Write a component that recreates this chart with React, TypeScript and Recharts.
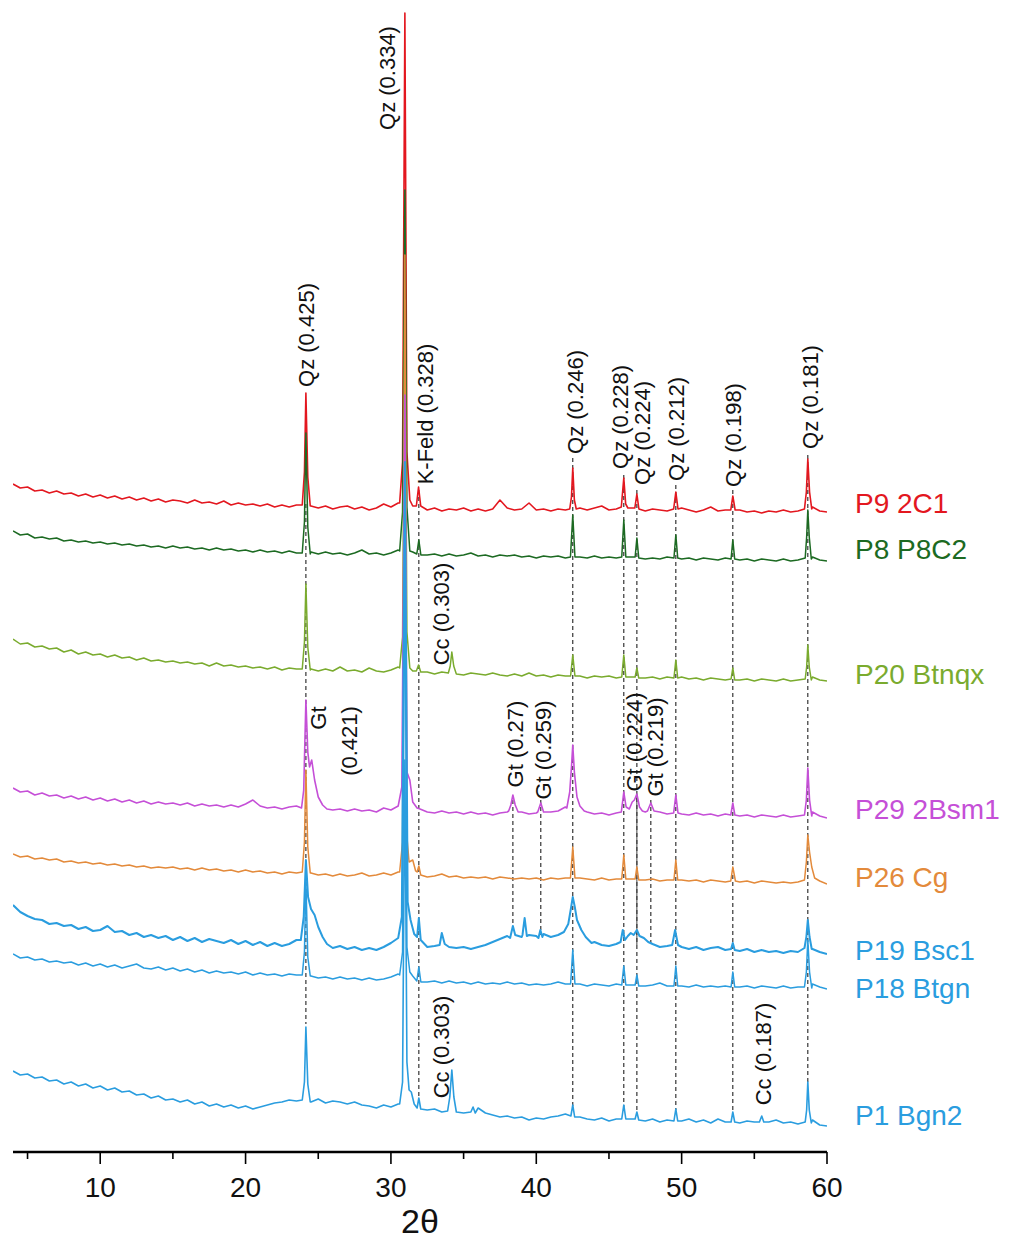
import { LineChart, Line, XAxis, YAxis, ReferenceLine, ReferenceDot } from 'recharts'

const FONT = '"Liberation Sans", Arial, Helvetica, sans-serif'

// raw scans are sampled on a 0.5° grid from 4° to 60° 2θ; peaks are added as extra points
const GRID_START = 4
const GRID_STEP = 0.5

// stacked intensities (offset already applied), one value per grid step
const p9Base = [
  668, 664, 665, 661, 662, 659, 661, 658, 659, 656,
  658, 655, 657, 654, 656, 653, 655, 652, 654, 651,
  653, 650, 652, 651, 649, 652, 649, 650, 648, 651,
  647, 649, 647, 648, 646, 648, 645, 647, 645, 647,
  648, 646, 644, 646, 643, 645, 646, 643, 645, 642,
  644, 648, 645, 649, 650, 646, 644, 642, 644, 641,
  643, 642, 644, 641, 643, 641, 643, 652, 644, 642,
  643, 649, 642, 643, 641, 643, 642, 645, 644, 642,
  644, 646, 642, 643, 645, 644, 644, 641, 643, 642,
  641, 643, 644, 642, 640, 642, 645, 641, 642, 643,
  642, 640, 641, 639, 641, 640, 642, 640, 641, 643,
  645, 641, 640,
]
const p9Peaks = [
  [[23.9, 647], [24.05, 680], [24.15, 759], [24.28, 675], [24.45, 646]],
  [[30.6, 649], [30.8, 690], [30.96, 1139], [31.1, 700], [31.3, 652]],
  [[31.75, 646], [31.9, 665], [32.05, 646]],
  [[42.3, 643], [42.42, 655], [42.51, 684], [42.62, 652], [42.75, 643]],
  [[45.85, 645], [46.02, 674], [46.15, 648], [46.3, 644]],
  [[46.78, 644], [46.92, 658], [47.06, 643]],
  [[49.45, 643], [49.6, 660], [49.75, 643]],
  [[53.38, 642], [53.52, 656], [53.68, 642]],
  [[58.45, 643], [58.58, 660], [58.68, 693], [58.8, 660], [58.95, 643]],
]

const p8Base = [
  621, 617, 618, 614, 615, 613, 614, 611, 612, 610,
  611, 609, 610, 608, 609, 607, 608, 606, 607, 605,
  606, 604, 606, 604, 605, 603, 604, 602, 604, 602,
  603, 601, 602, 600, 602, 600, 601, 599, 601, 599,
  602, 600, 598, 600, 598, 599, 597, 599, 602, 598,
  599, 597, 599, 602, 603, 600, 598, 597, 598, 596,
  598, 596, 597, 599, 596, 597, 595, 597, 596, 597,
  595, 596, 594, 596, 595, 596, 594, 596, 595, 594,
  596, 594, 595, 594, 596, 595, 596, 593, 594, 593,
  595, 594, 593, 594, 592, 594, 593, 592, 594, 595,
  592, 593, 591, 593, 592, 591, 593, 591, 592, 594,
  595, 592, 591,
]
const p8Peaks = [
  [[23.9, 599], [24.05, 630], [24.15, 719], [24.28, 625], [24.45, 598]],
  [[30.6, 601], [30.8, 640], [30.96, 962], [31.1, 645], [31.3, 601]],
  [[31.78, 598], [31.92, 612], [32.06, 597]],
  [[42.35, 595], [42.51, 637], [42.66, 595]],
  [[45.88, 595], [46.02, 632], [46.16, 595]],
  [[46.8, 595], [46.92, 614], [47.05, 594]],
  [[49.47, 594], [49.6, 617], [49.73, 594]],
  [[53.4, 593], [53.52, 612], [53.65, 593]],
  [[58.5, 594], [58.6, 615], [58.68, 642], [58.78, 615], [58.92, 593]],
]

const p20Base = [
  513, 508, 509, 505, 506, 503, 504, 500, 502, 498,
  500, 497, 498, 495, 497, 494, 495, 492, 494, 491,
  492, 490, 491, 489, 490, 488, 489, 486, 489, 486,
  487, 485, 486, 484, 485, 483, 485, 482, 484, 483,
  486, 483, 481, 483, 481, 485, 481, 482, 480, 484,
  481, 480, 482, 485, 486, 481, 479, 480, 478, 480,
  481, 479, 477, 479, 478, 477, 479, 477, 476, 478,
  476, 479, 476, 477, 475, 477, 476, 478, 476, 474,
  476, 475, 476, 474, 476, 475, 476, 474, 475, 473,
  475, 474, 475, 473, 474, 472, 474, 473, 472, 474,
  472, 473, 471, 473, 472, 471, 473, 471, 472, 474,
  475, 472, 471,
]
const p20Peaks = [
  [[23.9, 483], [24.05, 510], [24.15, 568], [24.28, 505], [24.45, 482]],
  [[30.6, 484], [30.8, 515], [30.96, 852], [31.1, 520], [31.3, 484]],
  [[31.75, 481], [31.9, 487], [32.05, 480]],
  [[33.95, 479], [34.08, 486], [34.19, 500], [34.32, 486], [34.5, 478]],
  [[42.36, 476], [42.51, 497], [42.66, 476]],
  [[45.88, 475], [46.02, 497], [46.16, 475]],
  [[46.8, 475], [46.92, 484], [47.05, 474]],
  [[49.47, 474], [49.6, 492], [49.73, 474]],
  [[53.4, 473], [53.52, 484], [53.65, 472]],
  [[58.5, 473], [58.6, 485], [58.68, 507], [58.78, 485], [58.92, 472]],
]

const p29Base = [
  364, 360, 361, 357, 359, 356, 357, 354, 356, 353,
  355, 352, 354, 351, 353, 350, 352, 349, 351, 348,
  350, 348, 349, 347, 349, 346, 348, 346, 347, 345,
  347, 345, 348, 352, 346, 344, 345, 343, 345, 346,
  350, 360, 350, 344, 342, 343, 341, 343, 341, 342,
  340, 344, 342, 346, 350, 349, 343, 340, 339, 341,
  339, 340, 338, 340, 338, 339, 337, 339, 340, 345,
  340, 338, 339, 344, 340, 341, 345, 350, 345, 340,
  338, 339, 337, 339, 342, 340, 344, 340, 345, 340,
  338, 340, 338, 337, 339, 337, 338, 336, 338, 339,
  336, 337, 335, 337, 336, 335, 337, 335, 336, 340,
  340, 336, 334,
]
const p29Peaks = [
  [[23.85, 344], [24.0, 362], [24.15, 452], [24.28, 400], [24.4, 385], [24.55, 392], [24.75, 372], [25.0, 355], [25.3, 347], [25.6, 343]],
  [[30.5, 346], [30.75, 365], [30.96, 757], [31.1, 380], [31.3, 372], [31.5, 350], [31.8, 344]],
  [[38.1, 341], [38.25, 347], [38.39, 357], [38.55, 347], [38.75, 340]],
  [[40.1, 340], [40.31, 349], [40.5, 340]],
  [[42.1, 344], [42.3, 360], [42.42, 385], [42.51, 407], [42.62, 380], [42.8, 355], [43.0, 346], [43.3, 341]],
  [[45.85, 340], [46.02, 360], [46.18, 345], [46.4, 343], [46.6, 350], [46.75, 352], [46.92, 358], [47.1, 345], [47.3, 341]],
  [[47.65, 341], [47.88, 349], [48.1, 341]],
  [[49.45, 339], [49.6, 357], [49.75, 339]],
  [[53.38, 337], [53.52, 349], [53.66, 337]],
  [[58.45, 337], [58.58, 352], [58.68, 384], [58.8, 352], [58.95, 336]],
]

const p26Base = [
  298, 295, 296, 293, 294, 292, 293, 290, 291, 289,
  290, 288, 289, 287, 288, 286, 287, 285, 286, 284,
  285, 284, 285, 283, 284, 282, 284, 282, 283, 281,
  282, 280, 282, 280, 281, 279, 280, 278, 280, 279,
  281, 279, 277, 278, 276, 278, 276, 277, 279, 276,
  277, 279, 277, 280, 281, 279, 276, 275, 276, 278,
  275, 276, 274, 275, 274, 275, 273, 275, 274, 273,
  274, 273, 274, 272, 274, 273, 274, 276, 274, 273,
  272, 274, 272, 273, 274, 273, 275, 272, 273, 271,
  272, 273, 272, 271, 272, 270, 272, 271, 270, 272,
  270, 271, 269, 271, 270, 269, 270, 269, 270, 272,
  275, 271, 268,
]
const p26Peaks = [
  [[23.9, 280], [24.05, 310], [24.15, 382], [24.28, 305], [24.45, 279]],
  [[30.6, 280], [30.8, 310], [30.96, 897], [31.1, 315], [31.25, 290], [31.5, 292], [31.7, 281]],
  [[31.8, 280], [31.92, 286], [32.05, 277]],
  [[42.35, 274], [42.51, 305], [42.66, 274]],
  [[45.88, 273], [46.02, 297], [46.16, 273]],
  [[46.8, 273], [46.92, 285], [47.05, 272]],
  [[49.47, 272], [49.6, 292], [49.73, 272]],
  [[53.38, 271], [53.52, 285], [53.7, 271]],
  [[58.45, 272], [58.58, 290], [58.68, 317], [58.8, 300], [58.95, 285], [59.15, 274]],
]

const p19Base = [
  247, 240, 236, 233, 232, 228, 229, 226, 227, 223,
  225, 221, 222, 226, 220, 221, 217, 219, 215, 217,
  214, 216, 212, 215, 211, 214, 210, 213, 211, 209,
  212, 208, 211, 207, 210, 206, 209, 206, 208, 212,
  215, 220, 212, 206, 204, 206, 203, 205, 202, 204,
  202, 205, 209, 214, 220, 215, 207, 205, 206, 209,
  205, 204, 205, 203, 205, 207, 210, 213, 216, 220,
  215, 217, 216, 218, 215, 217, 222, 230, 225, 215,
  210, 207, 206, 208, 212, 214, 215, 210, 208, 205,
  206, 209, 205, 203, 205, 202, 204, 205, 202, 204,
  201, 203, 200, 202, 200, 201, 199, 201, 200, 206,
  203, 200, 198,
]
const p19Peaks = [
  [[23.8, 212], [24.0, 235], [24.15, 292], [24.3, 255], [24.5, 243], [24.75, 237], [25.0, 225], [25.3, 215], [25.6, 208]],
  [[30.5, 214], [30.75, 235], [30.96, 690], [31.15, 250], [31.35, 232], [31.6, 218]],
  [[31.8, 215], [31.92, 234], [32.05, 212]],
  [[33.35, 207], [33.5, 219], [33.7, 208]],
  [[38.2, 214], [38.39, 226], [38.55, 217]],
  [[39.05, 217], [39.2, 234], [39.35, 216]],
  [[40.15, 214], [40.28, 222], [40.42, 215]],
  [[41.9, 220], [42.2, 228], [42.4, 245], [42.51, 255], [42.65, 245], [42.8, 232], [43.1, 222], [43.4, 215], [43.8, 209]],
  [[45.8, 210], [45.95, 222], [46.1, 212], [46.3, 216], [46.5, 219], [46.7, 217], [46.92, 222], [47.1, 216], [47.4, 214], [47.7, 210]],
  [[49.35, 207], [49.55, 222], [49.75, 207]],
  [[53.4, 203], [53.52, 209], [53.65, 202]],
  [[58.45, 204], [58.58, 215], [58.68, 232], [58.8, 215], [58.95, 203]],
]

const p18Base = [
  198, 194, 195, 192, 193, 190, 191, 189, 190, 187,
  189, 186, 188, 185, 187, 184, 186, 188, 184, 183,
  185, 182, 184, 181, 183, 180, 182, 179, 181, 179,
  180, 178, 180, 177, 179, 177, 178, 176, 178, 177,
  180, 176, 174, 175, 173, 175, 173, 174, 172, 174,
  172, 173, 175, 178, 180, 176, 172, 170, 171, 169,
  171, 169, 170, 168, 170, 168, 169, 168, 170, 168,
  169, 167, 168, 167, 168, 170, 168, 170, 168, 166,
  168, 167, 166, 168, 170, 167, 168, 166, 167, 169,
  166, 168, 166, 165, 167, 165, 166, 165, 166, 167,
  165, 166, 164, 166, 165, 164, 166, 164, 165, 167,
  168, 165, 163,
]
const p18Peaks = [
  [[23.9, 177], [24.05, 200], [24.15, 272], [24.28, 195], [24.45, 176]],
  [[30.6, 177], [30.8, 200], [30.96, 622], [31.1, 205], [31.3, 180]],
  [[31.78, 171], [31.92, 185], [32.06, 170]],
  [[42.36, 168], [42.51, 202], [42.66, 168]],
  [[45.88, 167], [46.02, 186], [46.16, 167]],
  [[46.8, 167], [46.92, 177], [47.05, 166]],
  [[49.47, 166], [49.6, 186], [49.73, 166]],
  [[53.4, 165], [53.52, 180], [53.65, 165]],
  [[58.45, 165], [58.58, 180], [58.68, 212], [58.8, 180], [58.95, 164]],
]

const p1Base = [
  81, 77, 78, 74, 75, 71, 72, 68, 70, 66,
  68, 64, 66, 62, 64, 60, 61, 57, 58, 54,
  56, 52, 53, 50, 52, 48, 50, 46, 48, 45,
  47, 44, 46, 43, 45, 47, 49, 50, 52, 51,
  54, 50, 53, 49, 51, 50, 48, 50, 47, 46,
  44, 47, 45, 48, 50, 46, 44, 42, 43, 40,
  42, 41, 39, 41, 44, 39, 37, 35, 36, 34,
  35, 32, 34, 33, 35, 36, 38, 40, 35, 33,
  32, 34, 31, 33, 35, 33, 36, 31, 33, 30,
  32, 34, 31, 33, 30, 32, 29, 33, 30, 32,
  29, 31, 30, 33, 30, 32, 29, 30, 28, 31,
  32, 27, 26,
]
const p1Peaks = [
  [[23.9, 52], [24.05, 70], [24.15, 125], [24.28, 68], [24.45, 50]],
  [[30.6, 48], [30.8, 70], [30.96, 392], [31.1, 90], [31.25, 62], [31.4, 60], [31.6, 48]],
  [[31.8, 44], [31.92, 54], [32.05, 43]],
  [[33.9, 41], [34.05, 55], [34.19, 82], [34.33, 55], [34.5, 40]],
  [[35.5, 40], [35.65, 45], [35.8, 39]],
  [[42.38, 36], [42.51, 47], [42.64, 35]],
  [[45.88, 33], [46.02, 47], [46.16, 33]],
  [[46.8, 33], [46.92, 40], [47.05, 32]],
  [[49.47, 31], [49.6, 43], [49.73, 31]],
  [[53.4, 30], [53.52, 40], [53.65, 30]],
  [[55.35, 30], [55.51, 36], [55.65, 30]],
  [[58.5, 30], [58.6, 42], [58.68, 70], [58.78, 42], [58.92, 29]],
]

// drawing order matters for the overlapping 31° quartz peak
const samples = [
  { name: 'P9 2C1', color: '#e3171f', base: p9Base, peaks: p9Peaks, labelY: 649, width: 1.6 },
  { name: 'P8 P8C2', color: '#1c6a22', base: p8Base, peaks: p8Peaks, labelY: 603, width: 1.5 },
  { name: 'P20 Btnqx', color: '#7aab2e', base: p20Base, peaks: p20Peaks, labelY: 478, width: 1.5 },
  { name: 'P26 Cg', color: '#e38a3b', base: p26Base, peaks: p26Peaks, labelY: 275, width: 1.5 },
  { name: 'P29 2Bsm1', color: '#c54fd7', base: p29Base, peaks: p29Peaks, labelY: 343, width: 1.6 },
  { name: 'P19 Bsc1', color: '#2a9ddf', base: p19Base, peaks: p19Peaks, labelY: 202, width: 2 },
  { name: 'P18 Btgn', color: '#2a9ddf', base: p18Base, peaks: p18Peaks, labelY: 164, width: 1.5 },
  { name: 'P1 Bgn2', color: '#2a9ddf', base: p1Base, peaks: p1Peaks, labelY: 37, width: 1.6 },
]

// reflection markers: 2θ position and vertical extent
const dashedMarkers = [
  { t: 24.15, from: 648, to: 128 },
  { t: 31.92, from: 662, to: 54 },
  { t: 38.39, from: 352, to: 222 },
  { t: 40.31, from: 352, to: 217 },
  { t: 42.51, from: 694, to: 45 },
  { t: 46.02, from: 677, to: 45 },
  { t: 46.92, from: 662, to: 39 },
  { t: 47.88, from: 352, to: 207 },
  { t: 49.6, from: 667, to: 42 },
  { t: 53.52, from: 662, to: 39 },
  { t: 58.68, from: 697, to: 70 },
]
const solidMarkers = [{ t: 46.92, from: 355, to: 207 }]

// mineral / d-spacing (nm) annotations, centred at (t, y)
const peakLabels = [
  { text: 'Qz (0.334)', t: 29.72, y: 1074 },
  { text: 'Qz (0.425)', t: 24.15, y: 817 },
  { text: 'K-Feld (0.328)', t: 32.33, y: 738 },
  { text: 'Qz (0.246)', t: 42.65, y: 750 },
  { text: 'Qz (0.228)', t: 45.75, y: 735 },
  { text: 'Qz (0.224)', t: 47.26, y: 719 },
  { text: 'Qz (0.212)', t: 49.6, y: 723 },
  { text: 'Qz (0.198)', t: 53.52, y: 717 },
  { text: 'Qz (0.181)', t: 58.81, y: 755 },
  { text: 'Cc (0.303)', t: 33.44, y: 538 },
  { text: 'Gt', t: 24.98, y: 434 },
  { text: '(0.421)', t: 27.11, y: 411 },
  { text: 'Gt (0.27)', t: 38.53, y: 408 },
  { text: 'Gt (0.259)', t: 40.45, y: 402 },
  { text: 'Gt (0.224)', t: 46.71, y: 410 },
  { text: 'Gt (0.219)', t: 48.15, y: 405 },
  { text: 'Cc (0.303)', t: 33.44, y: 105 },
  { text: 'Cc (0.187)', t: 55.58, y: 98 },
]

const xTicks = [5, 10, 15, 20, 25, 30, 35, 40, 45, 50, 55, 60]

function buildSeries(base: number[], peaks: number[][][]) {
  const spans = peaks.map(g => [g[0][0], g[g.length - 1][0]])
  const pts = base
    .map((v, i) => ({ t: GRID_START + i * GRID_STEP, v }))
    .filter(p => !spans.some(([a, b]) => p.t >= a && p.t <= b))
  peaks.forEach(g => g.forEach(([t, v]) => pts.push({ t, v })))
  return pts.sort((a, b) => a.t - b.t)
}

const AxisTick = (props: any) => {
  const { x, y, payload } = props
  const major = payload.value % 10 === 0
  return (
    <g>
      <line x1={x} x2={x} y1={y} y2={y + (major ? 12 : 7)} stroke="#000" strokeWidth={1.6} />
      {major && (
        <text x={x} y={y + 45} textAnchor="middle" fontSize={28} fontFamily={FONT} fill="#111">
          {payload.value}
        </text>
      )}
    </g>
  )
}

const rotatedText = (text: string) => (props: any) => {
  const { cx, cy } = props
  return (
    <text
      x={cx}
      y={cy}
      dy="0.36em"
      transform={`rotate(-90 ${cx} ${cy})`}
      textAnchor="middle"
      fontSize={22}
      fontFamily={FONT}
      fill="#111"
    >
      {text}
    </text>
  )
}

const sampleName = (name: string, color: string) => (props: any) => {
  const { cx, cy } = props
  return (
    <text x={cx + 28} y={cy} dy="0.36em" fontSize={28} fontFamily={FONT} fill={color}>
      {name}
    </text>
  )
}

export default function App() {
  const series = samples.map(s => ({ ...s, data: buildSeries(s.base, s.peaks) }))

  return (
    <div style={{ position: 'absolute', left: 0, top: 0, background: '#fff' }}>
      <LineChart width={1010} height={1242} margin={{ top: 12, right: 183, left: 13, bottom: 0 }}>
        <XAxis
          type="number"
          dataKey="t"
          domain={[4, 60]}
          allowDataOverflow
          ticks={xTicks}
          interval={0}
          height={90}
          tickSize={0}
          tickMargin={0}
          tickLine={false}
          tick={AxisTick}
          axisLine={{ stroke: '#000', strokeWidth: 2.5 }}
          label={{ value: '2θ', position: 'insideBottom', offset: 9, fontSize: 34, fontFamily: FONT, fill: '#111' }}
        />
        <YAxis type="number" hide domain={[0, 1140]} allowDataOverflow />

        {dashedMarkers.map(m => (
          <ReferenceLine
            key={`d${m.t}`}
            segment={[{ x: m.t, y: m.from }, { x: m.t, y: m.to }]}
            stroke="#222"
            strokeWidth={1.1}
            strokeDasharray="4 3"
          />
        ))}
        {solidMarkers.map(m => (
          <ReferenceLine
            key={`s${m.t}`}
            segment={[{ x: m.t, y: m.from }, { x: m.t, y: m.to }]}
            stroke="#444"
            strokeWidth={1}
          />
        ))}

        {series.map(s => (
          <Line
            key={s.name}
            data={s.data}
            dataKey="v"
            type="linear"
            stroke={s.color}
            strokeWidth={s.width}
            strokeLinejoin="round"
            dot={false}
            activeDot={false}
            isAnimationActive={false}
          />
        ))}

        {peakLabels.map((l, i) => (
          <ReferenceDot key={`l${i}`} x={l.t} y={l.y} r={0} shape={rotatedText(l.text)} />
        ))}
        {samples.map(s => (
          <ReferenceDot key={`n${s.name}`} x={60} y={s.labelY} r={0} shape={sampleName(s.name, s.color)} />
        ))}
      </LineChart>
    </div>
  )
}
